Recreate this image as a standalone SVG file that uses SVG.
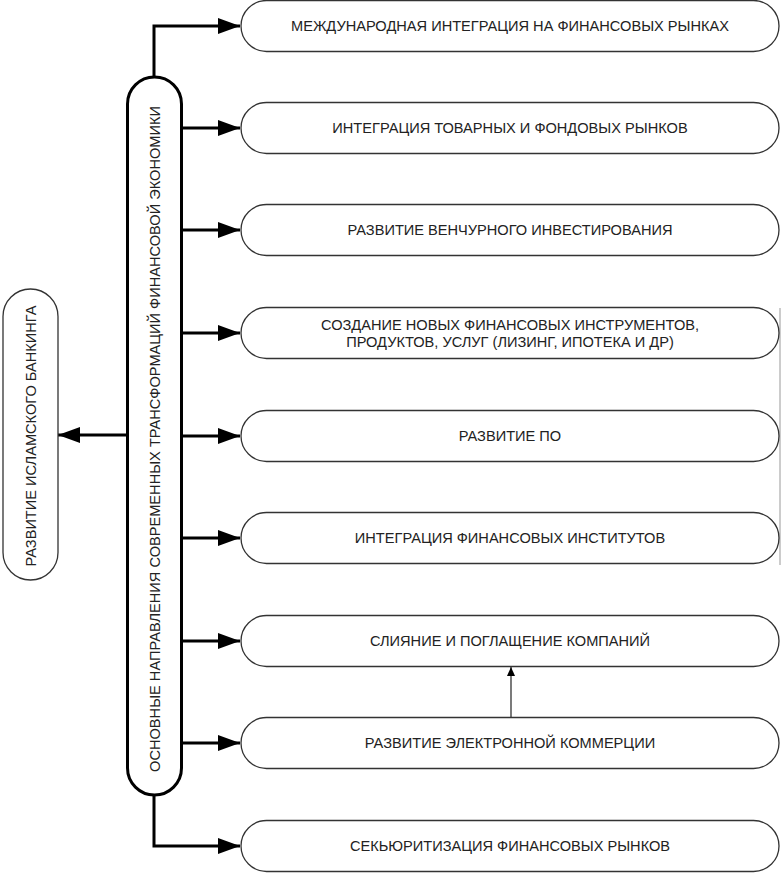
<svg xmlns="http://www.w3.org/2000/svg" width="782" height="874" viewBox="0 0 782 874">
<style>
.box{fill:#fff;stroke:#333;stroke-width:1.3}
.main{fill:#fff;stroke:#000;stroke-width:3}
.t{font-family:"Liberation Sans",Arial,sans-serif;font-size:14.6px;fill:#222;text-anchor:middle;dominant-baseline:central}
.c{fill:none;stroke:#000;stroke-width:3}
.thin{fill:none;stroke:#222;stroke-width:1.2}
</style>
<defs>
<marker id="ah" markerUnits="userSpaceOnUse" viewBox="0 0 22 16" refX="22" refY="8" markerWidth="22" markerHeight="16" orient="auto"><path d="M0,0 L22,8 L0,16 z" fill="#000"/></marker>
<marker id="sh" markerUnits="userSpaceOnUse" viewBox="0 0 9 8" refX="9" refY="4" markerWidth="9" markerHeight="8" orient="auto"><path d="M0,0 L9,4 L0,8 z" fill="#000"/></marker>
</defs>
<rect width="782" height="874" fill="#fff"/>
<g id="connectors">
<path class="c" d="M154,77 V26 H240" marker-end="url(#ah)"/>
<path class="c" d="M181,128 H240" marker-end="url(#ah)"/>
<path class="c" d="M181,230 H240" marker-end="url(#ah)"/>
<path class="c" d="M181,333 H240" marker-end="url(#ah)"/>
<path class="c" d="M181,436 H240" marker-end="url(#ah)"/>
<path class="c" d="M181,538 H240" marker-end="url(#ah)"/>
<path class="c" d="M181,641 H240" marker-end="url(#ah)"/>
<path class="c" d="M181,743 H240" marker-end="url(#ah)"/>
<path class="c" d="M154,795 V846 H240" marker-end="url(#ah)"/>
<path class="c" d="M127,435 H58" marker-end="url(#ah)"/>
<path class="thin" d="M511,717 V667" marker-end="url(#sh)"/>
<path d="M780,308 V565" stroke="#999" stroke-width="1" fill="none"/>
</g>
<g id="center">
<rect class="main" x="127.5" y="77" width="54" height="718" rx="27"/>
<text class="t" transform="translate(155,439) rotate(-90)">ОСНОВНЫЕ НАПРАВЛЕНИЯ СОВРЕМЕННЫХ ТРАНСФОРМАЦИЙ ФИНАНСОВОЙ ЭКОНОМИКИ</text>
</g>
<g id="islamic">
<rect class="box" x="3" y="289" width="55" height="291" rx="27.5" stroke-width="1.8"/>
<text class="t" transform="translate(31,436) rotate(-90)">РАЗВИТИЕ ИСЛАМСКОГО БАНКИНГА</text>
</g>
<g id="n1"><rect class="box" x="241" y="0.5" width="538" height="51" rx="25.5"/><text class="t" x="510" y="26">МЕЖДУНАРОДНАЯ ИНТЕГРАЦИЯ НА ФИНАНСОВЫХ РЫНКАХ</text></g>
<g id="n2"><rect class="box" x="241" y="102.5" width="538" height="51" rx="25.5"/><text class="t" x="510" y="128">ИНТЕГРАЦИЯ ТОВАРНЫХ И ФОНДОВЫХ РЫНКОВ</text></g>
<g id="n3"><rect class="box" x="241" y="204.5" width="538" height="51" rx="25.5"/><text class="t" x="510" y="230">РАЗВИТИЕ ВЕНЧУРНОГО ИНВЕСТИРОВАНИЯ</text></g>
<g id="n4"><rect class="box" x="241" y="307.5" width="538" height="51" rx="25.5"/><text class="t" x="510" y="325">СОЗДАНИЕ НОВЫХ ФИНАНСОВЫХ ИНСТРУМЕНТОВ,</text><text class="t" x="510" y="342">ПРОДУКТОВ, УСЛУГ (ЛИЗИНГ, ИПОТЕКА И ДР)</text></g>
<g id="n5"><rect class="box" x="241" y="410.5" width="538" height="51" rx="25.5"/><text class="t" x="510" y="436">РАЗВИТИЕ ПО</text></g>
<g id="n6"><rect class="box" x="241" y="512.5" width="538" height="51" rx="25.5"/><text class="t" x="510" y="538">ИНТЕГРАЦИЯ ФИНАНСОВЫХ ИНСТИТУТОВ</text></g>
<g id="n7"><rect class="box" x="241" y="615.5" width="538" height="51" rx="25.5"/><text class="t" x="510" y="641">СЛИЯНИЕ И ПОГЛАЩЕНИЕ КОМПАНИЙ</text></g>
<g id="n8"><rect class="box" x="241" y="717.5" width="538" height="51" rx="25.5"/><text class="t" x="510" y="743">РАЗВИТИЕ ЭЛЕКТРОННОЙ КОММЕРЦИИ</text></g>
<g id="n9"><rect class="box" x="241" y="820.5" width="538" height="51" rx="25.5"/><text class="t" x="510" y="846">СЕКЬЮРИТИЗАЦИЯ ФИНАНСОВЫХ РЫНКОВ</text></g>
</svg>
